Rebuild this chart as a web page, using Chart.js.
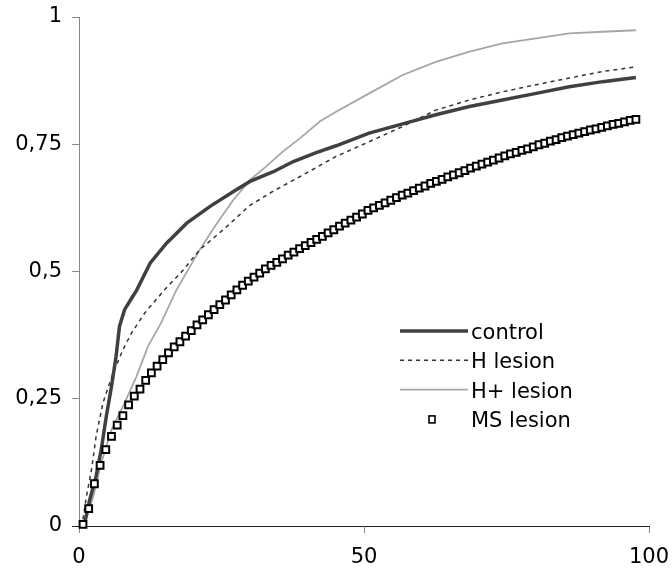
<!DOCTYPE html>
<html>
<head>
<meta charset="utf-8">
<script src="https://cdn.jsdelivr.net/npm/chart.js@4"></script>
<style>
  html, body { margin: 0; padding: 0; background: #fff; }
  #wrap { width: 672px; height: 569px; }
</style>
</head>
<body>
<div id="wrap"><canvas id="chart" width="672" height="569"></canvas></div>
<script>
const xTicks = [0, 50, 100];
const yTicks = [0, 0.25, 0.5, 0.75, 1];
const labels = ['control', 'H lesion', 'H+ lesion', 'MS lesion'];

// control (thick dark line)
const controlX = [1.0, 1.9, 3.0, 3.9, 4.8, 5.7, 6.5, 7.1, 8.0, 9.2, 10.1, 12.5, 15.4, 18.9, 23, 27.1, 30, 34.1, 37.6, 41.5, 45.1, 50.9, 56.8, 62.6, 68.5, 74.3, 80.2, 86, 91.9, 97.7];
const controlY = [0.006, 0.052, 0.098, 0.150, 0.216, 0.274, 0.333, 0.392, 0.425, 0.447, 0.463, 0.517, 0.556, 0.595, 0.628, 0.657, 0.677, 0.696, 0.716, 0.733, 0.747, 0.772, 0.790, 0.808, 0.824, 0.837, 0.850, 0.863, 0.873, 0.881];

// H lesion (dashed)
const hX = [0.7, 1.3, 2.2, 3.0, 4.2, 6.0, 7.7, 9.2, 11.5, 15.0, 18.3, 21.2, 25.3, 30, 34.1, 38.2, 45.1, 50.9, 56.8, 62.6, 68.5, 74.3, 80.2, 86, 91.9, 97.7];
const hY = [0.013, 0.058, 0.111, 0.176, 0.242, 0.301, 0.346, 0.379, 0.418, 0.464, 0.503, 0.543, 0.582, 0.630, 0.658, 0.683, 0.726, 0.755, 0.785, 0.817, 0.837, 0.853, 0.867, 0.880, 0.893, 0.902];

// H+ lesion (light grey)
const hPlusX = [1.0, 2.5, 3.9, 5.7, 8.0, 10.1, 12.1, 14.4, 17.1, 21.2, 24.2, 27.1, 30, 32.9, 35.8, 38.8, 42.3, 45.1, 50.9, 56.8, 62.6, 68.5, 74.3, 80.2, 86, 91.9, 97.7];
const hPlusY = [0.006, 0.058, 0.124, 0.189, 0.242, 0.294, 0.353, 0.399, 0.464, 0.543, 0.595, 0.641, 0.680, 0.707, 0.736, 0.762, 0.795, 0.814, 0.850, 0.886, 0.912, 0.932, 0.948, 0.958, 0.968, 0.971, 0.974];

// MS lesion (open squares, one per step)
const msX = Array.from({ length: 98 }, (_, i) => i + 0.7);
const msY = [0.003, 0.034, 0.083, 0.119, 0.150, 0.176, 0.198, 0.217, 0.238, 0.255,
  0.269, 0.286, 0.301, 0.314, 0.327, 0.340, 0.352, 0.362, 0.373, 0.384,
  0.395, 0.405, 0.415, 0.425, 0.435, 0.444, 0.454, 0.464, 0.473, 0.481,
  0.489, 0.497, 0.505, 0.512, 0.518, 0.525, 0.532, 0.538, 0.545, 0.551,
  0.557, 0.563, 0.569, 0.576, 0.582, 0.589, 0.595, 0.601, 0.607, 0.613,
  0.620, 0.625, 0.630, 0.635, 0.640, 0.645, 0.650, 0.654, 0.659, 0.664,
  0.668, 0.673, 0.677, 0.681, 0.686, 0.690, 0.694, 0.698, 0.703, 0.707,
  0.711, 0.715, 0.719, 0.723, 0.727, 0.731, 0.734, 0.738, 0.741, 0.745,
  0.749, 0.752, 0.756, 0.759, 0.763, 0.766, 0.769, 0.772, 0.775, 0.778,
  0.780, 0.783, 0.786, 0.789, 0.791, 0.794, 0.797, 0.799];

const pts = (xs, ys) => xs.map((x, i) => ({ x: x, y: ys[i] }));
const FONT = '"DejaVu Sans", Verdana, sans-serif';

// legend drawn inside the plot, like the original
const legendInside = {
  id: 'legendInside',
  afterDatasetsDraw(chart) {
    const ctx = chart.ctx;
    ctx.save();
    ctx.font = '21px ' + FONT;
    ctx.textBaseline = 'alphabetic';
    chart.data.datasets.forEach((ds, i) => {
      const y = 331 + i * 29.3;
      if (ds.showLine === false) {
        ctx.setLineDash([]);
        ctx.lineWidth = 1.6;
        ctx.strokeStyle = ds.borderColor;
        ctx.fillStyle = '#fff';
        ctx.fillRect(429, y - 3, 6, 7);
        ctx.strokeRect(429, y - 3, 6, 7);
      } else {
        ctx.beginPath();
        ctx.setLineDash(ds.borderDash || []);
        ctx.lineWidth = ds.borderWidth;
        ctx.strokeStyle = ds.borderColor;
        ctx.moveTo(400, y);
        ctx.lineTo(468, y);
        ctx.stroke();
        ctx.setLineDash([]);
      }
      ctx.fillStyle = '#000';
      ctx.fillText(ds.label, 471, y + 8);
    });
    ctx.restore();
  }
};

new Chart(document.getElementById('chart'), {
  type: 'line',
  data: {
    datasets: [{
      label: labels[0],
      data: pts(controlX, controlY),
      borderColor: '#404040',
      borderWidth: 3.5,
      pointRadius: 0,
      tension: 0,
      clip: false
    }, {
      label: labels[1],
      data: pts(hX, hY),
      borderColor: '#333333',
      borderWidth: 1.5,
      borderDash: [4, 4],
      pointRadius: 0,
      tension: 0,
      clip: false
    }, {
      label: labels[2],
      data: pts(hPlusX, hPlusY),
      borderColor: '#a6a6a6',
      borderWidth: 1.8,
      pointRadius: 0,
      tension: 0,
      clip: false
    }, {
      label: labels[3],
      data: pts(msX, msY),
      showLine: false,
      borderColor: '#000000',
      backgroundColor: '#ffffff',
      pointStyle: 'rect',
      pointRadius: 4.8,
      pointBorderWidth: 2,
      pointBackgroundColor: '#ffffff',
      pointBorderColor: '#000000',
      order: -1,
      clip: false
    }]
  },
  options: {
    responsive: false,
    animation: false,
    devicePixelRatio: 1,
    layout: { padding: { top: 17, right: 23, bottom: 0, left: 0 } },
    plugins: {
      legend: { display: false },
      tooltip: { enabled: false }
    },
    scales: {
      x: {
        type: 'linear',
        min: 0,
        max: 100,
        afterBuildTicks: (s) => { s.ticks = xTicks.map(v => ({ value: v })); },
        afterFit: (s) => { s.height = 43; s.paddingLeft = 0; s.paddingRight = 0; },
        grid: { drawOnChartArea: false, tickLength: 7, tickColor: '#888888' },
        border: { color: '#222222', width: 1 },
        ticks: { color: '#000', padding: 12, maxRotation: 0, font: { family: FONT, size: 21 } }
      },
      y: {
        type: 'linear',
        min: 0,
        max: 1,
        afterBuildTicks: (s) => { s.ticks = yTicks.map(v => ({ value: v })); },
        afterFit: (s) => { s.width = 79; s.paddingTop = 0; s.paddingBottom = 0; },
        grid: {
          drawOnChartArea: false,
          tickLength: 7,
          tickColor: (c) => (c.tick && c.tick.value === 0 ? '#222222' : '#888888')
        },
        border: { color: '#888888', width: 1 },
        ticks: {
          color: '#000',
          padding: 10,
          font: { family: FONT, size: 21 },
          callback: (v) => String(v).replace('.', ',')
        }
      }
    }
  },
  plugins: [legendInside]
});
</script>
</body>
</html>
